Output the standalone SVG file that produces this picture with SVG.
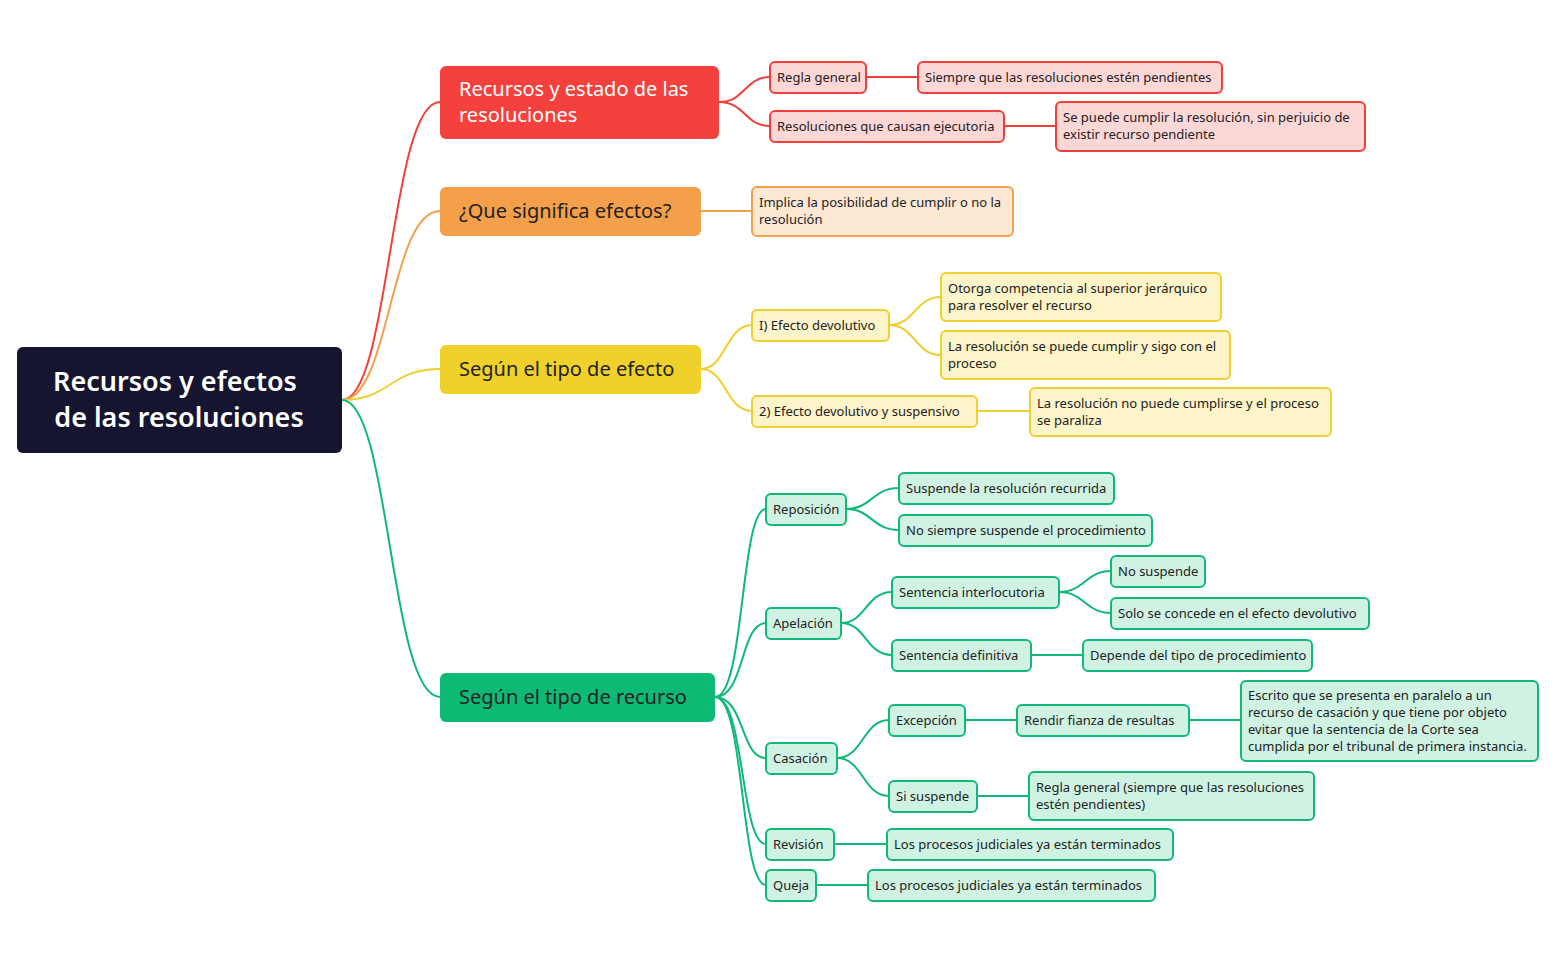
<svg xmlns="http://www.w3.org/2000/svg" width="1554" height="962" viewBox="0 0 1554 962">
<style>
text{font-family:"Noto Sans","Liberation Sans",sans-serif;font-size:13px;fill:#222}
.l1 text{font-size:20px}
.n rect{stroke-width:2}
.r rect{fill:#fdd6d6;stroke:#f1403c}
.o rect{fill:#fde8d4;stroke:#f4a04a}
.y rect{fill:#fdf4c9;stroke:#f0d030}
.g rect{fill:#cff2e2;stroke:#10b978}
.c path{fill:none;stroke-width:2}
</style>
<rect width="1554" height="962" fill="#fff"/>
<g class="c">
<g stroke="#f1403c">
<path d="M342 400 C390 400,390 102,440 102"/>
<path d="M719 102 C745 102,745 77,770 77"/>
<path d="M719 102 C745 102,745 126,770 126"/>
<path d="M866 77 L918 77"/>
<path d="M1004 126 L1056 126"/>
</g>
<g stroke="#f4a04a">
<path d="M342 400 C390 400,390 211,440 211"/>
<path d="M701 211 L752 211"/>
</g>
<g stroke="#f0d030">
<path d="M342 400 C390 400,390 369,440 369"/>
<path d="M701 369 C726 369,726 325,752 325"/>
<path d="M701 369 C726 369,726 411,752 411"/>
<path d="M889 325 C915 325,915 297,941 297"/>
<path d="M889 325 C915 325,915 355,941 355"/>
<path d="M977 411 L1030 411"/>
</g>
<g stroke="#10b978">
<path d="M342 400 C390 400,390 697,440 697"/>
<path d="M715 697 C745 697,740 509,766 509"/>
<path d="M715 697 C745 697,740 623,766 623"/>
<path d="M715 697 C745 697,740 758,766 758"/>
<path d="M715 697 C745 697,740 844,766 844"/>
<path d="M715 697 C745 697,740 885,766 885"/>
<path d="M846 509 C872 509,872 488,899 488"/>
<path d="M846 509 C872 509,872 530,899 530"/>
<path d="M841 623 C866 623,866 592,892 592"/>
<path d="M841 623 C866 623,866 655,892 655"/>
<path d="M1059 592 C1085 592,1085 571,1111 571"/>
<path d="M1059 592 C1085 592,1085 613,1111 613"/>
<path d="M1031 655 L1083 655"/>
<path d="M837 758 C863 758,863 720,889 720"/>
<path d="M837 758 C863 758,863 796,889 796"/>
<path d="M965 720 L1017 720"/>
<path d="M1189 720 L1241 720"/>
<path d="M977 796 L1029 796"/>
<path d="M834 844 L887 844"/>
<path d="M816 885 L868 885"/>
</g>
</g>
<g id="root"><rect x="17" y="347" width="325" height="106" rx="6" fill="#15152f"/>
<text x="175" y="391" text-anchor="middle" style="font-size:27px;fill:#fff;font-weight:600">Recursos y efectos</text>
<text x="179" y="427" text-anchor="middle" style="font-size:27px;fill:#fff;font-weight:600">de las resoluciones</text></g>
<g class="l1">
<g id="n-red"><rect x="440" y="66" width="279" height="73" rx="6" fill="#f5413d"/>
<text x="459" y="96" style="fill:#fff">Recursos y estado de las</text><text x="459" y="122" style="fill:#fff">resoluciones</text></g>
<g id="n-orange"><rect x="440" y="187" width="261" height="49" rx="6" fill="#f4a04a"/><text x="459" y="218">¿Que significa efectos?</text></g>
<g id="n-yellow"><rect x="440" y="345" width="261" height="49" rx="6" fill="#f0d02a"/><text x="459" y="376">Según el tipo de efecto</text></g>
<g id="n-green"><rect x="440" y="673" width="275" height="49" rx="6" fill="#0cba74"/><text x="459" y="704">Según el tipo de recurso</text></g>
</g>
<g class="n r">
<g id="r1"><rect x="770" y="62" width="96" height="31" rx="5"/><text x="777" y="82">Regla general</text></g>
<g id="r2"><rect x="918" y="62" width="304" height="31" rx="5"/><text x="925" y="82">Siempre que las resoluciones estén pendientes</text></g>
<g id="r3"><rect x="770" y="111" width="234" height="31" rx="5"/><text x="777" y="131">Resoluciones que causan ejecutoria</text></g>
<g id="r4"><rect x="1056" y="102" width="309" height="49" rx="5"/><text x="1063" y="122">Se puede cumplir la resolución, sin perjuicio de</text><text x="1063" y="139">existir recurso pendiente</text></g>
</g>
<g class="n o">
<g id="o1"><rect x="752" y="187" width="261" height="49" rx="5"/><text x="759" y="207">Implica la posibilidad de cumplir o no la</text><text x="759" y="224">resolución</text></g>
</g>
<g class="n y">
<g id="y1"><rect x="752" y="310" width="137" height="31" rx="5"/><text x="759" y="330">I) Efecto devolutivo</text></g>
<g id="y2"><rect x="941" y="273" width="280" height="48" rx="5"/><text x="948" y="293">Otorga competencia al superior jerárquico</text><text x="948" y="310">para resolver el recurso</text></g>
<g id="y3"><rect x="941" y="331" width="289" height="48" rx="5"/><text x="948" y="351">La resolución se puede cumplir y sigo con el</text><text x="948" y="368">proceso</text></g>
<g id="y4"><rect x="752" y="396" width="225" height="31" rx="5"/><text x="759" y="416">2) Efecto devolutivo y suspensivo</text></g>
<g id="y5"><rect x="1030" y="388" width="301" height="48" rx="5"/><text x="1037" y="408">La resolución no puede cumplirse y el proceso</text><text x="1037" y="425">se paraliza</text></g>
</g>
<g class="n g">
<g id="g1"><rect x="766" y="494" width="80" height="31" rx="5"/><text x="773" y="514">Reposición</text></g>
<g id="g2"><rect x="899" y="473" width="215" height="31" rx="5"/><text x="906" y="493">Suspende la resolución recurrida</text></g>
<g id="g3"><rect x="899" y="515" width="253" height="31" rx="5"/><text x="906" y="535">No siempre suspende el procedimiento</text></g>
<g id="g4"><rect x="766" y="608" width="75" height="31" rx="5"/><text x="773" y="628">Apelación</text></g>
<g id="g5"><rect x="892" y="577" width="167" height="31" rx="5"/><text x="899" y="597">Sentencia interlocutoria</text></g>
<g id="g6"><rect x="1111" y="556" width="94" height="31" rx="5"/><text x="1118" y="576">No suspende</text></g>
<g id="g7"><rect x="1111" y="598" width="258" height="31" rx="5"/><text x="1118" y="618">Solo se concede en el efecto devolutivo</text></g>
<g id="g8"><rect x="892" y="640" width="139" height="31" rx="5"/><text x="899" y="660">Sentencia definitiva</text></g>
<g id="g9"><rect x="1083" y="640" width="229" height="31" rx="5"/><text x="1090" y="660">Depende del tipo de procedimiento</text></g>
<g id="g10"><rect x="766" y="743" width="71" height="31" rx="5"/><text x="773" y="763">Casación</text></g>
<g id="g11"><rect x="889" y="705" width="76" height="31" rx="5"/><text x="896" y="725">Excepción</text></g>
<g id="g12"><rect x="1017" y="705" width="172" height="31" rx="5"/><text x="1024" y="725">Rendir fianza de resultas</text></g>
<g id="g13"><rect x="1241" y="681" width="297" height="80" rx="5"/><text x="1248" y="700">Escrito que se presenta en paralelo a un</text><text x="1248" y="717">recurso de casación y que tiene por objeto</text><text x="1248" y="734">evitar que la sentencia de la Corte sea</text><text x="1248" y="751">cumplida por el tribunal de primera instancia.</text></g>
<g id="g14"><rect x="889" y="781" width="88" height="31" rx="5"/><text x="896" y="801">Si suspende</text></g>
<g id="g15"><rect x="1029" y="772" width="285" height="48" rx="5"/><text x="1036" y="792">Regla general (siempre que las resoluciones</text><text x="1036" y="809">estén pendientes)</text></g>
<g id="g16"><rect x="766" y="829" width="68" height="31" rx="5"/><text x="773" y="849">Revisión</text></g>
<g id="g17"><rect x="887" y="829" width="286" height="31" rx="5"/><text x="894" y="849">Los procesos judiciales ya están terminados</text></g>
<g id="g18"><rect x="766" y="870" width="50" height="31" rx="5"/><text x="773" y="890">Queja</text></g>
<g id="g19"><rect x="868" y="870" width="287" height="31" rx="5"/><text x="875" y="890">Los procesos judiciales ya están terminados</text></g>
</g>
</svg>
